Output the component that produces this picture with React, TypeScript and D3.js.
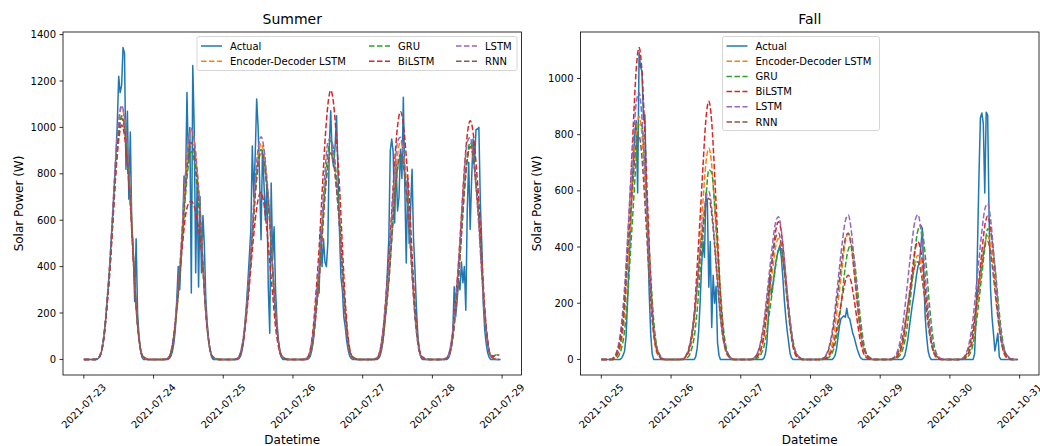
import { useEffect, useRef } from "react";
import * as d3 from "d3";

const seriesNames = ["Actual", "Encoder-Decoder LSTM", "GRU", "BiLSTM", "LSTM", "RNN"];
const seriesColors = ["#1f77b4", "#ff7f0e", "#2ca02c", "#d62728", "#9467bd", "#8c564b"];

const summerTicks = ["2021-07-23", "2021-07-24", "2021-07-25", "2021-07-26", "2021-07-27", "2021-07-28", "2021-07-29"];
const fallTicks = ["2021-10-25", "2021-10-26", "2021-10-27", "2021-10-28", "2021-10-29", "2021-10-30", "2021-10-31"];

// actual readings: half-hourly, one row per day (00:00 .. 23:30)
const summerActual = [
  [0,0,0,0,0,0,0,0, 0,0,5,12,30,60,110,170,250,330,420,530,640,750,870,1010,1220,1150,1180,1344,1320,820,1070,690,980,580,470,250,520,200,100,40,10,0,0,0, 0,0,0,0],
  [0,0,0,0,0,0,0,0, 0,0,0,5,15,35,70,130,260,400,300,450,560,790,740,1150,850,1000,286,1267,1000,373,763,312,702,373,620,486,260,150,80,35,10,0,0,0, 0,0,0,0],
  [0,0,0,0,0,0,0,0, 0,0,0,5,15,40,80,150,240,340,450,560,920,700,880,1122,1000,780,516,900,763,600,740,312,113,760,430,572,300,160,80,30,10,0,0,0, 0,0,0,0],
  [0,0,0,0,0,0,0,0, 0,0,0,5,15,40,80,150,240,330,286,559,400,520,420,400,500,920,1072,870,830,920,1050,800,560,356,300,183,140,80,40,15,5,0,0,0, 0,0,0,0],
  [0,0,0,0,0,0,0,0, 0,0,0,5,15,40,80,150,250,380,520,900,950,892,588,850,640,700,906,780,1130,750,416,780,500,650,820,520,386,220,100,40,10,0,0,0, 0,0,0,0],
  [0,0,0,0,0,0,0,0, 0,0,0,5,20,50,110,313,183,250,342,300,420,330,400,212,646,850,560,776,950,850,990,993,1000,676,500,243,130,70,30,10,0,0,0,0, 0,0,0,0],
];

// model predictions: hourly, one row per day (00:00 .. 23:00)
const summerED = [
  [0,0,0,0,0,5,33,109,250,418,637,856,1016,1085,1035,896,716,467,239,90,20,5,0,0],
  [0,0,0,0,0,5,30,99,228,381,581,781,927,990,944,818,653,426,218,82,18,4,0,0],
  [0,0,0,0,0,5,28,93,214,358,546,734,870,930,887,768,614,400,205,77,17,4,0,0],
  [0,0,0,0,0,4,27,89,205,343,522,702,833,890,849,735,587,383,196,74,16,4,0,0],
  [0,0,0,0,0,5,28,94,216,362,552,742,880,940,897,776,620,404,207,78,17,4,0,0],
  [0,0,0,0,0,5,27,92,210,352,537,722,856,915,873,756,604,393,201,76,16,4,0,0],
];
const summerGRU = [
  [0,0,0,0,0,6,35,110,245,404,612,825,980,1050,1005,872,698,456,236,92,22,8,2,0],
  [0,0,0,0,0,6,30,95,210,345,525,706,838,895,854,739,591,385,197,74,18,8,2,0],
  [0,0,0,0,0,6,31,96,212,348,531,714,847,905,863,748,597,389,199,75,18,8,2,0],
  [0,0,0,0,0,6,32,100,222,364,555,746,885,945,902,781,624,406,208,78,19,8,2,0],
  [0,0,0,0,0,5,30,90,205,337,514,690,819,875,835,723,578,376,193,73,17,8,2,0],
  [0,0,0,0,0,6,32,98,218,360,549,738,875,935,892,772,617,402,206,78,18,15,20,18],
];
const summerBiLSTM = [
  [0,0,0,0,0,5,30,101,232,389,593,797,945,1010,964,834,667,434,222,84,18,4,0,0],
  [0,0,0,0,0,5,30,110,230,370,500,620,670,682,660,600,520,400,200,80,18,4,0,0],
  [0,0,0,0,0,4,25,85,190,320,470,600,690,720,670,560,420,280,140,55,12,3,0,0],
  [0,0,0,0,0,8,45,140,300,480,710,935,1095,1160,1100,945,750,490,250,95,22,5,0,0],
  [0,0,0,0,0,7,40,125,270,435,640,850,1005,1068,1015,875,700,455,232,88,20,5,0,0],
  [0,0,0,0,0,7,38,120,262,420,620,820,968,1029,980,848,677,441,226,85,19,12,20,18],
];
const summerLSTM = [
  [0,0,0,0,2,6,36,115,258,430,655,875,1030,1095,1040,896,712,462,236,89,20,5,0,0],
  [0,0,0,0,2,6,34,108,238,394,596,797,938,995,945,815,648,421,215,81,18,5,0,0],
  [0,0,0,0,2,6,33,105,230,382,578,772,908,960,910,784,624,404,207,78,17,5,0,0],
  [0,0,0,0,3,8,42,125,260,410,610,805,935,955,880,740,570,360,180,65,14,4,0,0],
  [0,0,0,0,3,8,42,125,260,412,612,808,938,958,885,745,575,365,182,66,14,4,0,0],
  [0,0,0,0,3,8,42,125,260,411,611,806,936,957,883,743,572,362,181,65,14,4,0,0],
];
const summerRNN = [
  [0,0,0,0,0,5,31,104,239,400,610,821,973,1040,992,859,686,447,229,86,19,5,0,0],
  [0,0,0,0,0,5,28,94,215,360,549,738,875,935,892,772,617,402,206,78,17,5,0,0],
  [0,0,0,0,0,4,27,89,205,344,524,705,836,893,852,738,589,384,196,74,16,5,0,0],
  [0,0,0,0,0,4,27,89,205,343,522,702,833,890,849,735,587,383,196,74,16,5,0,0],
  [0,0,0,0,0,4,27,88,203,340,519,697,827,884,843,730,583,380,194,73,16,5,0,0],
  [0,0,0,0,0,5,28,92,211,354,539,725,860,919,877,759,607,395,202,76,17,5,0,0],
];

const fallActual = [
  [0,0,0,0,0,0,0,0, 0,0,0,0,0,0,5,15,30,80,200,330,460,600,700,800,850,592,1092,1040,1026,854,870,600,425,230,90,20,0,0,0,0,0,0,0,0, 0,0,0,0],
  [0,0,0,0,0,0,0,0, 0,0,0,0,0,0,0,0,0,10,40,100,200,330,420,364,592,560,257,420,114,300,200,260,60,15,0,0,0,0,0,0,0,0,0,0, 0,0,0,0],
  [0,0,0,0,0,0,0,0, 0,0,0,0,0,0,0,0,5,20,60,150,300,230,260,300,340,370,390,407,360,290,211,150,100,60,20,5,0,0,0,0,0,0,0,0, 0,0,0,0],
  [0,0,0,0,0,0,0,0, 0,0,0,0,0,0,0,0,5,15,40,80,120,145,150,155,150,182,150,145,120,95,80,60,40,25,10,3,0,0,0,0,0,0,0,0, 0,0,0,0],
  [0,0,0,0,0,0,0,0, 0,0,0,0,0,0,0,0,5,15,40,70,110,150,190,222,260,300,330,347,400,468,300,150,80,30,10,0,0,0,0,0,0,0,0,0, 0,0,0,0],
  [0,0,0,0,0,0,0,0, 0,0,0,0,0,0,0,0,0,20,150,400,650,860,877,840,592,880,870,500,250,150,92,30,60,93,10,0,0,0,0,0,0,0,0,0, 0,0,0,0],
];
const fallED = [
  [0,0,0,0,0,9,26,69,156,311,476,649,804,865,796,623,415,216,87,26,9,0,0,0],
  [0,0,0,0,0,8,23,60,135,271,414,564,699,752,692,541,361,188,75,23,8,0,0,0],
  [0,0,0,0,0,4,13,34,77,155,237,323,400,430,396,310,206,108,43,13,4,0,0,0],
  [0,0,0,0,0,4,13,36,81,162,247,337,418,449,413,323,216,112,45,13,4,0,0,0],
  [0,0,0,0,0,4,11,30,67,134,204,278,345,371,341,267,178,93,37,11,4,0,0,0],
  [0,0,0,0,0,4,13,35,79,158,242,330,409,440,405,317,211,110,44,13,4,0,0,0],
];
const fallGRU = [
  [0,0,0,0,0,4,13,42,101,218,378,546,714,840,830,689,504,302,143,50,17,0,0,0],
  [0,0,0,0,0,3,10,34,81,176,304,439,574,675,665,553,405,243,115,41,14,0,0,0],
  [0,0,0,0,0,2,6,20,47,101,176,254,332,390,385,320,234,140,66,23,8,0,0,0],
  [0,0,0,0,0,2,5,15,37,80,150,240,330,390,407,360,270,165,80,28,8,0,0,0],
  [0,0,0,0,0,2,6,18,44,95,175,280,390,460,478,420,315,190,90,32,10,0,0,0],
  [0,0,0,0,0,2,7,23,56,121,209,302,395,465,455,380,280,167,79,28,9,0,0,0],
];
const fallBiLSTM = [
  [0,0,0,0,0,11,33,89,200,400,611,833,1032,1110,1021,799,533,278,111,33,11,0,0,0],
  [0,0,0,0,0,9,28,74,165,331,505,689,855,919,845,662,441,230,92,28,9,0,0,0],
  [0,0,0,0,0,5,15,39,88,176,270,368,456,490,451,353,235,123,49,15,5,0,0,0],
  [0,0,0,0,0,3,9,24,54,108,165,225,279,300,276,216,144,75,30,9,3,0,0,0],
  [0,0,0,0,0,4,13,34,75,151,230,314,390,419,385,302,201,105,42,13,4,0,0,0],
  [0,0,0,0,0,5,15,41,92,184,281,383,474,510,469,367,245,128,51,15,5,0,0,0],
];
const fallLSTM = [
  [0,0,0,0,5,19,57,133,257,428,608,779,912,950,855,665,447,247,114,48,19,5,0,0],
  [0,0,0,0,3,12,36,84,161,269,383,490,574,598,538,419,281,155,72,30,12,3,0,0],
  [0,0,0,0,3,10,30,71,137,229,325,417,488,508,457,356,239,132,61,25,10,3,0,0],
  [0,0,0,0,3,10,31,72,139,231,329,421,493,514,463,360,242,134,62,26,10,3,0,0],
  [0,0,0,0,3,10,31,72,139,232,330,422,494,515,464,361,242,134,62,26,10,3,0,0],
  [0,0,0,0,3,11,33,78,150,250,355,455,533,555,500,389,261,144,67,28,11,3,0,0],
];
const fallRNN = [
  [0,0,0,0,4,16,48,111,215,358,509,652,763,795,716,557,374,207,95,40,16,4,0,0],
  [0,0,0,0,3,11,34,80,155,258,367,471,551,574,517,402,270,149,69,29,11,3,0,0],
  [0,0,0,0,2,9,27,63,122,203,288,369,432,450,405,315,212,117,54,23,9,2,0,0],
  [0,0,0,0,2,9,27,63,121,202,287,368,431,449,404,314,211,117,54,22,9,2,0,0],
  [0,0,0,0,2,7,21,49,94,157,223,285,334,348,313,244,164,90,42,17,7,2,0,0],
  [0,0,0,0,2,8,25,59,113,189,269,344,403,420,378,294,197,109,50,21,8,2,0,0],
];

const W = 1040;
const H = 446;
const TOP = 32;
const BOTTOM = 375;
const FONT = "DejaVu Sans, Liberation Sans, sans-serif";

// rows of daily readings -> {t: hours since first midnight, v}
const toPoints = (rows, perHour) =>
  rows.flatMap((row, d) => row.map((v, i) => ({ t: d * 24 + i / perHour, v })));

function drawPanel(svg, opts) {
  const { left, right, title, ticks, rows, legend } = opts;
  const series = rows.map((r, i) => ({
    name: seriesNames[i],
    color: seriesColors[i],
    points: toPoints(r, i === 0 ? 2 : 1),
  }));
  const all = series.flatMap(s => s.points);
  const [t0, t1] = d3.extent(all, d => d.t);
  const [v0, v1] = d3.extent(all, d => d.v);
  const tPad = (t1 - t0) * 0.05;
  const vPad = (v1 - v0) * 0.05;

  const x = d3.scaleLinear().domain([t0 - tPad, t1 + tPad]).range([left, right]);
  const y = d3.scaleLinear().domain([v0 - vPad, v1 + vPad]).range([BOTTOM, TOP]);

  const g = svg.append("g");

  const line = d3.line().x(d => x(d.t)).y(d => y(d.v));
  const smooth = d3.line().x(d => x(d.t)).y(d => y(d.v)).curve(d3.curveMonotoneX);

  series.forEach((s, i) => {
    g.append("path")
      .attr("d", i === 0 ? line(s.points) : smooth(s.points))
      .attr("fill", "none")
      .attr("stroke", s.color)
      .attr("stroke-width", 1.5)
      .attr("stroke-linejoin", "round")
      .style("stroke-dasharray", i === 0 ? "none" : "5.55, 2.4");
  });

  // spines
  g.append("rect")
    .attr("x", left).attr("y", TOP)
    .attr("width", right - left).attr("height", BOTTOM - TOP)
    .attr("fill", "none").attr("stroke", "#000").attr("stroke-width", 0.8);

  // y ticks
  y.ticks(6).forEach(v => {
    g.append("line")
      .attr("x1", left).attr("x2", left - 3.5)
      .attr("y1", y(v)).attr("y2", y(v))
      .attr("stroke", "#000").attr("stroke-width", 0.8);
    g.append("text")
      .attr("x", left - 7).attr("y", y(v))
      .attr("text-anchor", "end").attr("dominant-baseline", "central")
      .style("font-size", "10px")
      .text(v);
  });

  // x ticks (one per day)
  ticks.forEach((label, i) => {
    const tx = x(i * 24);
    g.append("line")
      .attr("x1", tx).attr("x2", tx)
      .attr("y1", BOTTOM).attr("y2", BOTTOM + 3.5)
      .attr("stroke", "#000").attr("stroke-width", 0.8);
    g.append("text")
      .attr("transform", `translate(${tx},${BOTTOM + 31}) rotate(-45)`)
      .attr("text-anchor", "middle").attr("dominant-baseline", "central")
      .style("font-size", "10px")
      .text(label);
  });

  const cx = (left + right) / 2;
  g.append("text")
    .attr("x", cx).attr("y", TOP - 8)
    .attr("text-anchor", "middle")
    .style("font-size", "14px")
    .text(title);

  g.append("text")
    .attr("x", cx).attr("y", 444)
    .attr("text-anchor", "middle")
    .style("font-size", "12px")
    .text("Datetime");

  g.append("text")
    .attr("transform", `translate(${left - 44},${(TOP + BOTTOM) / 2}) rotate(-90)`)
    .attr("text-anchor", "middle").attr("dominant-baseline", "central")
    .style("font-size", "12px")
    .text("Solar Power (W)");

  // legend
  const lg = g.append("g");
  lg.append("rect")
    .attr("x", legend.x).attr("y", legend.y)
    .attr("width", legend.w).attr("height", legend.h)
    .attr("rx", 2)
    .attr("fill", "#fff").attr("fill-opacity", 0.8)
    .attr("stroke", "#ccc").attr("stroke-width", 0.8);

  series.forEach((s, i) => {
    const col = Math.floor(i / legend.rows);
    const row = i % legend.rows;
    const lx = legend.x + 4 + legend.colX[col];
    const ly = legend.y + 9.5 + row * 15.2;
    lg.append("line")
      .attr("x1", lx).attr("x2", lx + 21)
      .attr("y1", ly).attr("y2", ly)
      .attr("stroke", s.color).attr("stroke-width", 1.5)
      .style("stroke-dasharray", i === 0 ? "none" : "5.55, 2.4");
    lg.append("text")
      .attr("x", lx + 29).attr("y", ly)
      .attr("dominant-baseline", "central")
      .style("font-size", "10px")
      .text(s.name);
  });
}

export default function App() {
  const svgRef = useRef(null);

  useEffect(() => {
    const svg = d3.select(svgRef.current);
    svg.selectAll("*").remove();

    drawPanel(svg, {
      left: 63, right: 521.5, title: "Summer", ticks: summerTicks,
      rows: [summerActual, summerED, summerGRU, summerBiLSTM, summerLSTM, summerRNN],
      legend: { x: 197, y: 36.5, w: 320, h: 34, rows: 2, colX: [0, 168, 255] },
    });
    drawPanel(svg, {
      left: 580.5, right: 1039, title: "Fall", ticks: fallTicks,
      rows: [fallActual, fallED, fallGRU, fallBiLSTM, fallLSTM, fallRNN],
      legend: { x: 722.5, y: 36.5, w: 157, h: 94, rows: 6, colX: [0] },
    });
  }, []);

  return (
    <svg
      ref={svgRef}
      width={W}
      height={H}
      style={{ position: "absolute", left: 0, top: 0, fontFamily: FONT, background: "#fff" }}
    />
  );
}
